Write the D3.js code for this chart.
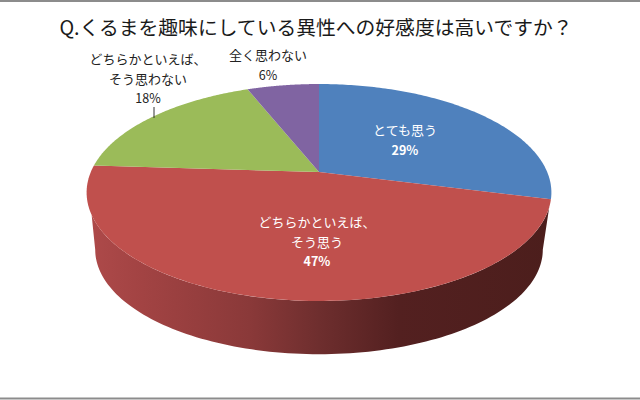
<!DOCTYPE html>
<html lang="ja">
<head>
<meta charset="utf-8">
<script src="https://cdn.jsdelivr.net/npm/d3@7"></script>
<style>
  html, body { margin: 0; padding: 0; background: #fff; }
  svg { display: block; }
  text { font-family: "Noto Sans CJK JP", sans-serif; text-anchor: middle; }
</style>
</head>
<body>
<svg id="viz" width="640" height="400"></svg>
<script>
const TITLE = "Q.くるまを趣味にしている異性への好感度は高いですか？";

// Data, clockwise from 12 o'clock
const categories = ["とても思う", "どちらかといえば、\nそう思う", "どちらかといえば、\nそう思わない", "全く思わない"];
const shares = [29, 47, 18, 6];
const colors = ["#4f81bd", "#c0504d", "#9bbb59", "#8064a2"];
const inside = [true, true, false, false];

// Label anchors (centre x, first baseline y)
const labelX = [405, 317, 148, 268];
const labelY = [135, 227, 64, 60];

const W = 640, H = 400;
const svg = d3.select("#viz");

// Top and bottom grey rules of the screenshot
svg.append("line").attr("x1", 0).attr("x2", W).attr("y1", 1).attr("y2", 1)
  .attr("stroke", "#8c8c8c").attr("stroke-width", 2);
svg.append("line").attr("x1", 0).attr("x2", W).attr("y1", 398.5).attr("y2", 398.5)
  .attr("stroke", "#8c8c8c").attr("stroke-width", 2);

svg.append("text").attr("x", 316).attr("y", 35)
  .attr("font-size", 19.8).attr("fill", "#1a1a1a").text(TITLE);

// Perspective pie: a flat disc seen from the front, so the apex sits above the ellipse centre
const P = 0.189, SX = 228.2, SY = 104.6;
const APEX = [319, 172];
const BOTTOM = { scale: 0.963, dy: 58 };

function rim(a, scale = 1, dy = 0) {
  const X = Math.sin(a), Y = Math.cos(a), w = 1 + P * Y;
  return [
    APEX[0] + scale * SX * X / w,
    APEX[1] + dy - scale * SY * Y / w
  ];
}

const arcs = d3.pie().sort(null)(shares);
const line = d3.line();
const rad = d => d * Math.PI / 180;
const steps = (a0, a1) => d3.range(0, 121).map(i => a0 + (a1 - a0) * i / 120);

// Side wall, only the front of the red slice is in view.
// Angles are where the visible edge leaves each rim.
const grad = svg.append("defs").append("linearGradient")
  .attr("id", "wall").attr("gradientUnits", "userSpaceOnUse")
  .attr("x1", 87).attr("x2", 552).attr("y1", 0).attr("y2", 0);
[[0, "#ae4a4a"], [0.12, "#a24343"], [0.35, "#8a3939"], [0.5, "#6e2e2e"], [0.67, "#532020"], [1, "#4c1e1c"]]
  .forEach(([o, c]) => grad.append("stop").attr("offset", o).attr("stop-color", c));

const wallPts = steps(rad(108.4), rad(247.6)).map(a => rim(a))
  .concat(steps(rad(259.1), rad(100.9)).map(a => rim(a, BOTTOM.scale, BOTTOM.dy)));
svg.append("path").attr("d", line(wallPts) + "Z").attr("fill", "url(#wall)");

// Top face
svg.selectAll("path.slice")
  .data(arcs)
  .join("path")
    .attr("class", "slice")
    .attr("d", d => line([APEX].concat(steps(d.startAngle, d.endAngle).map(a => rim(a)))) + "Z")
    .attr("fill", (d, i) => colors[i]);

// Leader line for the 18% label
svg.append("line").attr("x1", 154).attr("x2", 154).attr("y1", 107).attr("y2", 118)
  .attr("stroke", "#333").attr("stroke-width", 1);

// Labels
const labels = svg.selectAll("g.label")
  .data(categories)
  .join("g").attr("class", "label");

labels.each(function (c, i) {
  const g = d3.select(this);
  const fill = inside[i] ? "#fff" : "#222";
  const lines = c.split("\n");
  lines.forEach((t, k) => {
    g.append("text").attr("x", labelX[i]).attr("y", labelY[i] + k * 19.5)
      .attr("font-size", 13).attr("fill", fill).text(t);
  });
  g.append("text").attr("x", labelX[i]).attr("y", labelY[i] + lines.length * 19.5)
    .attr("font-size", 12.5).attr("fill", fill)
    .attr("font-weight", inside[i] ? 700 : 400).text(shares[i] + "%");
});
</script>
</body>
</html>
